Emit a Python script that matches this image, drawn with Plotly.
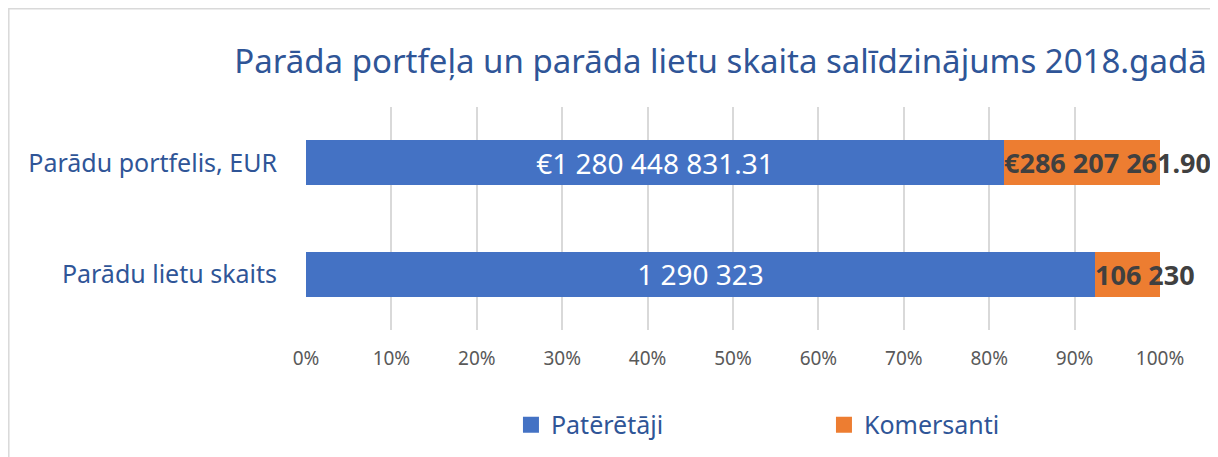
import plotly.graph_objects as go

categories = ["Parādu lietu skaits", "Parādu portfelis, EUR"]
consumers = [1290323, 1280448831.31]
merchants = [106230, 286207261.90]
label_fmt = ["{:,.0f}", "€{:,.2f}"]
series_names = ["Patērētāji", "Komersanti"]
title_text = "Parāda portfeļa un parāda lietu skaita salīdzinājums 2018.gadā"
tick_vals = [0, 10, 20, 30, 40, 50, 60, 70, 80, 90, 100]
tick_text = [f"{v}%" for v in tick_vals]

BLUE = "#4472C4"
ORANGE = "#ED7D31"
TXT_BLUE = "#2F5597"
FONT = "Noto Sans"


def fmt(v, f):
    return f.format(v).replace(",", " ")


cons_text = [fmt(v, f) for v, f in zip(consumers, label_fmt)]
merch_text = [fmt(v, f) for v, f in zip(merchants, label_fmt)]

fig = go.Figure()
fig.add_trace(go.Bar(
    y=categories, x=consumers, orientation="h", name=series_names[0],
    marker=dict(color=BLUE, line=dict(width=0)),
    text=cons_text, textposition="inside", insidetextanchor="middle",
    textfont=dict(color="white", size=28, family=FONT),
    hoverinfo="x+y", showlegend=False,
))
fig.add_trace(go.Bar(
    y=categories, x=merchants, orientation="h", name=series_names[1],
    marker=dict(color=ORANGE, line=dict(width=0)),
    textposition="none", showlegend=False,
))
# legend entries with larger square swatches
for name, col in zip(series_names, [BLUE, ORANGE]):
    fig.add_trace(go.Scatter(
        x=[None], y=[None], mode="markers", name=name,
        marker=dict(symbol="square", size=16, color=col),
        showlegend=True, hoverinfo="skip",
    ))

for cat, c, m, t in zip(categories, consumers, merchants, merch_text):
    share = c / (c + m) * 100
    fig.add_annotation(
        x=share, y=cat, xref="x", yref="y", text="<b>" + t + "</b>",
        showarrow=False, xanchor="left", yanchor="middle", xshift=-2,
        font=dict(color="#404040", size=27, family=FONT),
    )

# chart border
fig.add_shape(type="rect", xref="paper", yref="paper",
              x0=-0.348, x1=1.0644, y0=-0.8, y1=1.4406,
              line=dict(color="#D9D9D9", width=1.5), fillcolor="rgba(0,0,0,0)",
              layer="below")

fig.update_layout(
    width=1218, height=457,
    barmode="stack", barnorm="percent", bargap=0.6,
    paper_bgcolor="white", plot_bgcolor="white",
    margin=dict(l=298, r=66, t=99, b=135),
    title=dict(text=title_text, x=0.585, xanchor="center", y=0.882, yanchor="middle",
               font=dict(family=FONT, size=33, color=TXT_BLUE)),
    font=dict(family=FONT),
    showlegend=True,
    legend=dict(orientation="h", x=0.24, xanchor="left", y=-0.426, yanchor="middle",
                font=dict(size=25, color=TXT_BLUE), entrywidth=268,
                traceorder="normal", itemsizing="trace"),
    xaxis=dict(range=[0, 100], tickvals=tick_vals, ticktext=tick_text,
               showgrid=True, gridcolor="#D9D9D9", gridwidth=1.5,
               zeroline=False, showline=False, ticks="",
               tickfont=dict(size=19, color="#595959"), ticklabelstandoff=15,
               fixedrange=True),
    yaxis=dict(categoryorder="array", categoryarray=categories,
               showgrid=False, zeroline=False, showline=False, ticks="",
               tickfont=dict(size=25, color=TXT_BLUE), ticklabelstandoff=28,
               fixedrange=True),
)

fig.write_html("out.html")
